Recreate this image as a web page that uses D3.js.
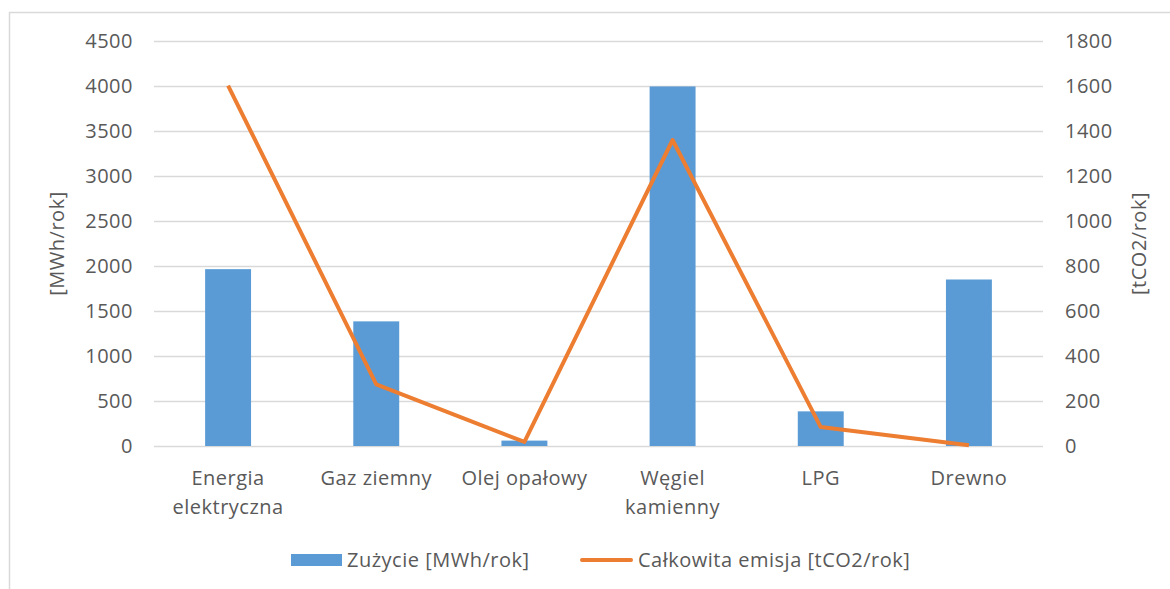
<!DOCTYPE html>
<html>
<head>
<meta charset="utf-8">
<script src="https://cdn.jsdelivr.net/npm/d3@7"></script>
<style>
  body { margin: 0; background: #fff; }
  svg text { font-family: "Open Sans", sans-serif; fill: #595959; letter-spacing: 0.5px; }
</style>
</head>
<body>
<svg id="chart" width="1170" height="589"></svg>
<script>
// Data.
const categories = [
  ["Energia", "elektryczna"],
  ["Gaz ziemny"],
  ["Olej opałowy"],
  ["Węgiel", "kamienny"],
  ["LPG"],
  ["Drewno"]
];
const consumption = [1965, 1385, 60, 3995, 385, 1850];   // MWh/rok (left axis)
const emission    = [1602, 274, 18, 1360, 84, 3];        // tCO2/rok (right axis)
const leftTicks   = [0, 500, 1000, 1500, 2000, 2500, 3000, 3500, 4000, 4500];
const rightTicks  = [0, 200, 400, 600, 800, 1000, 1200, 1400, 1600, 1800];

const BAR_COLOR  = "#5B9BD5";
const LINE_COLOR = "#ED7D31";
const GRID_COLOR = "#D9D9D9";
const FONT_SIZE  = "20px";

const svg = d3.select("#chart");
const plot = { left: 154, right: 1043, top: 41, bottom: 446 };

// chart frame
svg.append("rect")
  .attr("x", 9.5).attr("y", 12.5)
  .attr("width", 1200).attr("height", 600)
  .attr("fill", "none")
  .attr("stroke", "#D9D9D9")
  .attr("stroke-width", 1.5);

const x = d3.scaleBand()
  .domain(d3.range(categories.length))
  .range([plot.left, plot.right]);

const yL = d3.scaleLinear().domain([0, 4500]).range([plot.bottom, plot.top]);
const yR = d3.scaleLinear().domain([0, 1800]).range([plot.bottom, plot.top]);

// gridlines
svg.append("g")
  .selectAll("line")
  .data(leftTicks)
  .join("line")
  .attr("x1", plot.left).attr("x2", plot.right)
  .attr("y1", d => Math.round(yL(d)) + 0.5)
  .attr("y2", d => Math.round(yL(d)) + 0.5)
  .attr("stroke", GRID_COLOR)
  .attr("stroke-width", 1.3);

// left axis
const leftAxis = svg.append("g")
  .attr("transform", `translate(${plot.left - 21},0)`)
  .call(d3.axisLeft(yL).tickValues(leftTicks).tickFormat(d3.format("d"))
    .tickSize(0).tickPadding(0));
leftAxis.select(".domain").remove();
leftAxis.selectAll("text").attr("font-size", FONT_SIZE).attr("fill", "#595959");

// right axis
const rightAxis = svg.append("g")
  .attr("transform", `translate(${plot.right + 22},0)`)
  .call(d3.axisRight(yR).tickValues(rightTicks).tickFormat(d3.format("d"))
    .tickSize(0).tickPadding(0));
rightAxis.select(".domain").remove();
rightAxis.selectAll("text").attr("font-size", FONT_SIZE).attr("fill", "#595959");

// bars
const barW = x.bandwidth() * 0.31;
svg.append("g")
  .selectAll("rect")
  .data(consumption)
  .join("rect")
  .attr("x", (d, i) => x(i) + (x.bandwidth() - barW) / 2)
  .attr("y", d => yL(d))
  .attr("width", barW)
  .attr("height", d => yL(0) - yL(d))
  .attr("fill", BAR_COLOR);

// emission line
const line = d3.line()
  .x((d, i) => x(i) + x.bandwidth() / 2)
  .y(d => yR(d));
svg.append("path")
  .datum(emission)
  .attr("d", line)
  .attr("fill", "none")
  .attr("stroke", LINE_COLOR)
  .attr("stroke-width", 4)
  .attr("stroke-linejoin", "round");

// category labels
const catG = svg.append("g");
categories.forEach((lines, i) => {
  const t = catG.append("text")
    .attr("x", x(i) + x.bandwidth() / 2)
    .attr("y", 485)
    .attr("text-anchor", "middle")
    .attr("font-size", FONT_SIZE);
  lines.forEach((l, j) => {
    t.append("tspan")
      .attr("x", x(i) + x.bandwidth() / 2)
      .attr("dy", j === 0 ? 0 : 29)
      .text(l);
  });
});

// axis titles
svg.append("text")
  .attr("transform", `translate(64,${(plot.top + plot.bottom) / 2}) rotate(-90)`)
  .attr("text-anchor", "middle")
  .attr("font-size", FONT_SIZE)
  .text("[MWh/rok]");
svg.append("text")
  .attr("transform", `translate(1146,${(plot.top + plot.bottom) / 2}) rotate(-90)`)
  .attr("text-anchor", "middle")
  .attr("font-size", FONT_SIZE)
  .text("[tCO2/rok]");

// legend
const lg = svg.append("g");
lg.append("rect")
  .attr("x", 291).attr("y", 554)
  .attr("width", 51).attr("height", 12)
  .attr("fill", BAR_COLOR);
lg.append("text")
  .attr("x", 347).attr("y", 567)
  .attr("font-size", FONT_SIZE)
  .text("Zużycie [MWh/rok]");
lg.append("line")
  .attr("x1", 582).attr("x2", 631)
  .attr("y1", 560).attr("y2", 560)
  .attr("stroke", LINE_COLOR)
  .attr("stroke-width", 4)
  .attr("stroke-linecap", "round");
lg.append("text")
  .attr("x", 638).attr("y", 567)
  .attr("font-size", FONT_SIZE)
  .text("Całkowita emisja [tCO2/rok]");
</script>
</body>
</html>
